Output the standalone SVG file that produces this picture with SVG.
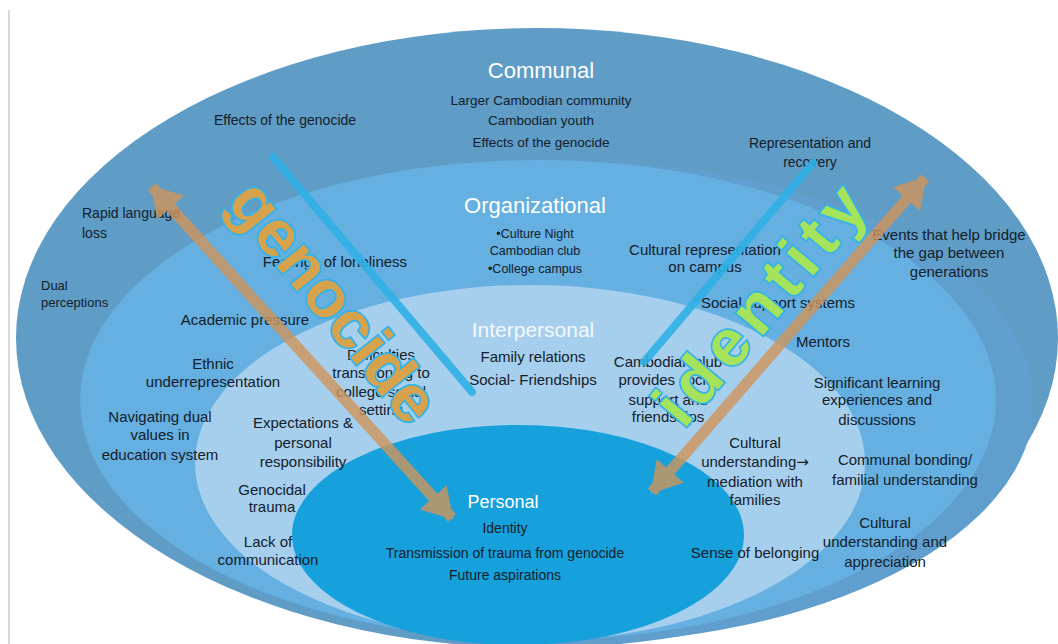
<svg xmlns="http://www.w3.org/2000/svg" width="1058" height="644" viewBox="0 0 1058 644">
  <style>
    text { font-family: "Liberation Sans", Arial, sans-serif; }
    .lbl { font-size: 15px; fill: #13202b; text-anchor: middle; }
    .sm { font-size: 13.5px; }
    .xs { font-size: 12.5px; }
    .left { text-anchor: start; }
    .hdr { font-size: 22px; fill: #ffffff; text-anchor: middle; }
    .tan { stroke: #d0955a; stroke-width: 11; fill: none; }
    .blue { stroke: #2fb0e6; stroke-width: 8; stroke-linecap: round; fill: none; opacity: 0.9; }
    .art { font-size: 66px; font-weight: bold; stroke: #35b2e6; stroke-width: 3.5; paint-order: stroke; text-anchor: middle; }
  </style>
  <defs>
    <marker id="tanHead" viewBox="0 0 30 36" refX="28" refY="18" markerWidth="30" markerHeight="36" markerUnits="userSpaceOnUse" orient="auto-start-reverse">
      <path d="M0,0 L30,18 L0,36 z" fill="#d0955a"/>
    </marker>
  </defs>
  <rect width="1058" height="644" fill="#ffffff"/>
  <line x1="9" y1="10" x2="9" y2="644" stroke="#d9d9d9" stroke-width="2"/>

  <g id="communal">
    <ellipse cx="537" cy="338" rx="521" ry="310" fill="#5f9cc6"/>
    <ellipse cx="562" cy="402" rx="472" ry="242" fill="#609fcd"/>
    <text class="hdr" x="541" y="78">Communal</text>
    <text class="lbl sm" x="541" y="105">Larger Cambodian community</text>
    <text class="lbl sm" x="541" y="125">Cambodian youth</text>
    <text class="lbl sm" x="541" y="147">Effects of the genocide</text>
  </g>
  <g id="organizational">
    <ellipse cx="538" cy="400" rx="458" ry="240" fill="#65afe1"/>
    <text class="hdr" x="535" y="213">Organizational</text>
    <text class="lbl xs" x="535" y="238">•Culture Night</text>
    <text class="lbl xs" x="535" y="255">Cambodian club</text>
    <text class="lbl xs" x="535" y="273">•College campus</text>
  </g>
  <g id="interpersonal">
    <ellipse cx="530" cy="463" rx="335" ry="178" fill="#a6cfed"/>
    <text class="hdr" x="533" y="337" style="font-size:21px" fill-opacity="0.9">Interpersonal</text>
    <text class="lbl" x="533" y="362">Family relations</text>
    <text class="lbl" x="533" y="385">Social- Friendships</text>
  </g>
  <g id="personal">
    <ellipse cx="518" cy="535" rx="226" ry="110" fill="#16a1dc"/>
    <text class="hdr" x="503" y="508" style="font-size:18px">Personal</text>
    <text class="lbl" x="505" y="533" style="font-size:14px">Identity</text>
    <text class="lbl" x="505" y="558" style="font-size:14px">Transmission of trauma from genocide</text>
    <text class="lbl" x="505" y="580" style="font-size:14px">Future aspirations</text>
  </g>

  <g id="n-effects"><text class="lbl" x="285" y="125" style="font-size:14px">Effects of the genocide</text></g>
  <g id="n-representation"><text class="lbl" x="810" y="148" style="font-size:14px">Representation and</text><text class="lbl" x="810" y="167" style="font-size:14px">recovery</text></g>
  <g id="n-rapid"><text class="lbl left" x="82" y="218" style="font-size:14px">Rapid language</text><text class="lbl left" x="82" y="238" style="font-size:14px">loss</text></g>
  <g id="n-dual"><text class="lbl left" x="41" y="290" style="font-size:13px">Dual</text><text class="lbl left" x="41" y="307" style="font-size:13px">perceptions</text></g>
  <g id="n-loneliness"><text class="lbl" x="335" y="267">Feelings of loneliness</text></g>
  <g id="n-cultrep"><text class="lbl" x="705" y="255">Cultural representation</text><text class="lbl" x="705" y="272">on campus</text></g>
  <g id="n-events"><text class="lbl" x="949" y="240">Events that help bridge</text><text class="lbl" x="949" y="258">the gap between</text><text class="lbl" x="949" y="277">generations</text></g>
  <g id="n-social"><text class="lbl" x="778" y="308">Social support systems</text></g>
  <g id="n-academic"><text class="lbl" x="245" y="325">Academic pressure</text></g>
  <g id="n-mentors"><text class="lbl" x="823" y="347">Mentors</text></g>
  <g id="n-difficulties"><text class="lbl" x="381" y="360">Difficulties</text><text class="lbl" x="381" y="378">transitioning to</text><text class="lbl" x="381" y="397">college social</text><text class="lbl" x="381" y="415">setting</text></g>
  <g id="n-club"><text class="lbl" x="668" y="367">Cambodian club</text><text class="lbl" x="668" y="385">provides social</text><text class="lbl" x="668" y="405">support and</text><text class="lbl" x="668" y="422">friendships</text></g>
  <g id="n-ethnic"><text class="lbl" x="213" y="369">Ethnic</text><text class="lbl" x="213" y="387">underrepresentation</text></g>
  <g id="n-learning"><text class="lbl" x="877" y="388">Significant learning</text><text class="lbl" x="877" y="405">experiences and</text><text class="lbl" x="877" y="425">discussions</text></g>
  <g id="n-navigating"><text class="lbl" x="160" y="422">Navigating dual</text><text class="lbl" x="160" y="440">values in</text><text class="lbl" x="160" y="460">education system</text></g>
  <g id="n-expectations"><text class="lbl" x="303" y="428">Expectations &amp;</text><text class="lbl" x="303" y="448">personal</text><text class="lbl" x="303" y="467">responsibility</text></g>
  <g id="n-mediation"><text class="lbl" x="755" y="448">Cultural</text><text class="lbl" x="755" y="467">understanding<tspan style="font-family:'DejaVu Sans',sans-serif">→</tspan></text><text class="lbl" x="755" y="487">mediation with</text><text class="lbl" x="755" y="505">families</text></g>
  <g id="n-bonding"><text class="lbl" x="905" y="465">Communal bonding/</text><text class="lbl" x="905" y="485">familial understanding</text></g>
  <g id="n-genocidal"><text class="lbl" x="272" y="495">Genocidal</text><text class="lbl" x="272" y="512">trauma</text></g>
  <g id="n-appreciation"><text class="lbl" x="885" y="528">Cultural</text><text class="lbl" x="885" y="547">understanding and</text><text class="lbl" x="885" y="567">appreciation</text></g>
  <g id="n-lack"><text class="lbl" x="268" y="547">Lack of</text><text class="lbl" x="268" y="565">communication</text></g>
  <g id="n-belonging"><text class="lbl" x="755" y="558">Sense of belonging</text></g>

  <g id="connectors">
    <line class="blue" x1="273" y1="157" x2="472" y2="392"/>
    <line class="blue" x1="813" y1="163" x2="644" y2="362"/>
    <g opacity="0.8">
      <path class="tan" d="M152,187 L452,518" marker-start="url(#tanHead)" marker-end="url(#tanHead)"/>
      <path class="tan" d="M652,492 L925,178" marker-start="url(#tanHead)" marker-end="url(#tanHead)"/>
    </g>
  </g>

  <g id="label-genocide">
    <text class="art" transform="translate(330,305) rotate(51)" y="17" fill="#d6a24c">genocide</text>
  </g>
  <g id="label-identity">
    <text class="art" transform="translate(764,308) rotate(-50)" y="17" fill="#a6e35c" textLength="290" lengthAdjust="spacing">identity</text>
  </g>
</svg>
